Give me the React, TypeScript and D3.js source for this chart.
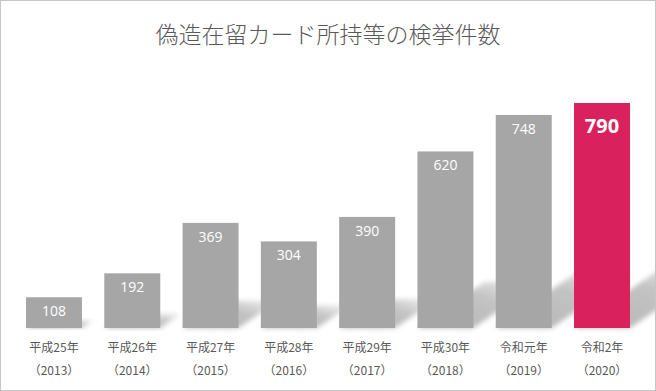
import React from 'react';
import * as d3 from 'd3';

const eras = ['平成25年', '平成26年', '平成27年', '平成28年', '平成29年', '平成30年', '令和元年', '令和2年'];
const years = ['2013', '2014', '2015', '2016', '2017', '2018', '2019', '2020'];
const counts = [108, 192, 369, 304, 390, 620, 748, 790];

const W = 656;
const H = 391;
const baseY = 328;
const topY = 103;

export default function App() {
  const x = d3.scaleBand<string>()
    .domain(years)
    .range([26, 630])
    .paddingInner(0.285)
    .paddingOuter(0);

  const y = d3.scaleLinear()
    .domain([0, d3.max(counts) as number])
    .range([baseY, topY]);

  const bw = x.bandwidth();
  const last = years.length - 1;

  // perspective shadow behind each bar, leaning to the back right
  const shadow = (i: number) => {
    const x0 = x(years[i]) as number;
    const h = baseY - y(counts[i]);
    const dx = h * 0.38;
    const dy = h * 0.26;
    return d3.line()([
      [x0, baseY],
      [x0 + bw, baseY],
      [x0 + bw + dx, baseY - dy],
      [x0 + dx, baseY - dy],
    ]) + 'Z';
  };

  return (
    <div style={{ position: 'absolute', left: 0, top: 0 }}>
      <svg width={W} height={H} style={{ display: 'block' }}>
        <defs>
          <filter id="blur" x="-20%" y="-20%" width="140%" height="140%">
            <feGaussianBlur stdDeviation="2.5" />
          </filter>
          <linearGradient id="shade" x1="0" y1="1" x2="1" y2="0">
            <stop offset="0%" stopColor="#b4b4b4" stopOpacity={1} />
            <stop offset="60%" stopColor="#bcbcbc" stopOpacity={0.9} />
            <stop offset="100%" stopColor="#d4d4d4" stopOpacity={0.4} />
          </linearGradient>
          <clipPath id="frame">
            <rect x={1} y={1} width={W - 2} height={H - 2} />
          </clipPath>
        </defs>
        <rect x={0.5} y={0.5} width={W - 1} height={H - 1} fill="#fff" stroke="#c6c6c6" />

        <text x={W / 2} y={43} textAnchor="middle" fontSize={23}
          fontFamily="'Noto Sans CJK JP', sans-serif" fontWeight={300} fill="#595959">
          偽造在留カード所持等の検挙件数
        </text>

        <g clipPath="url(#frame)">
          {counts.map((d, i) => (
            <path key={'s' + i} d={shadow(i)} fill="url(#shade)" filter="url(#blur)" />
          ))}
        </g>

        {counts.map((d, i) => (
          <rect key={'b' + i}
            x={x(years[i])}
            y={y(d)}
            width={bw}
            height={baseY - y(d)}
            fill={i === last ? '#d9215e' : '#a6a6a6'} />
        ))}

        {counts.map((d, i) => (
          <text key={'v' + i}
            x={(x(years[i]) as number) + bw / 2}
            y={y(d) + (i === last ? 30 : 19)}
            textAnchor="middle"
            fontFamily="'Open Sans', sans-serif"
            fontSize={i === last ? 20 : 14}
            fontWeight={i === last ? 700 : 400}
            fill="#fff">
            {d}
          </text>
        ))}

        {eras.map((e, i) => (
          <g key={'c' + i} fontFamily="'Noto Sans CJK JP', sans-serif" fontSize={12} fill="#595959" textAnchor="middle">
            <text x={(x(years[i]) as number) + bw / 2} y={352}>{e}</text>
            <text x={(x(years[i]) as number) + bw / 2} y={375}>{'（' + years[i] + '）'}</text>
          </g>
        ))}
      </svg>
    </div>
  );
}
